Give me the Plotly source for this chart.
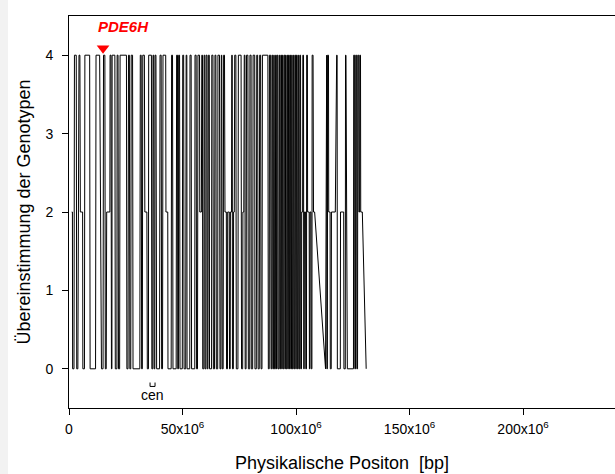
import plotly.graph_objects as go

# Marker positions along the chromosome (Mb) and genotype concordance at each marker
position_mb = [
    1.2, 1.5, 1.6, 2.2, 2.4, 3.2, 3.4, 3.9, 4.4, 4.8,
    5.0, 6.0, 6.1, 6.8, 7.0, 9.1, 9.3, 11.7, 11.9, 13.5,
    14.3, 15.0, 15.2, 15.8, 16.0, 16.4, 16.6, 18.0, 18.1, 18.5,
    18.7, 18.9, 19.0, 20.2, 20.4, 21.1, 21.2, 21.6, 21.8, 22.3,
    22.5, 25.3, 25.5, 26.0, 26.2, 26.6, 26.8, 27.2, 27.4, 28.0,
    28.2,
    31.2, 31.4, 31.8, 32.0, 32.3, 32.5, 33.2, 33.4, 34.3, 34.5,
    35.0, 35.1, 36.3, 36.5, 36.9, 37.0, 37.3, 37.5, 37.8, 37.9,
    38.3, 38.6, 39.9, 40.1, 40.6, 40.8, 41.2, 41.4, 42.6, 42.7,
    43.5, 43.6, 45.0, 45.2, 45.6, 45.8,
    47.2, 47.4, 47.8, 47.9, 48.2, 48.3, 48.7, 48.9, 49.9, 50.1,
    50.5, 50.7, 51.4, 51.6, 51.9, 52.0, 53.2, 53.3, 53.8, 54.0,
    55.4, 55.5, 56.0, 56.2, 56.6, 56.8, 57.5, 57.6, 58.3, 58.5,
    58.8, 58.9, 59.4, 59.5, 59.8, 59.9, 60.3, 60.4, 60.8, 60.9,
    61.2, 61.4, 61.8, 61.9, 62.8, 62.9, 63.4, 63.6, 64.1, 64.3,
    64.7, 64.9, 65.5, 65.6, 66.3, 66.5,
    66.9, 67.1, 67.3, 67.5, 67.9, 68.1, 68.5, 68.7, 69.3, 69.4,
    69.8, 69.9, 70.6, 70.7, 71.0, 71.1, 71.6, 71.7, 71.9, 72.0,
    72.4, 72.5, 72.8, 73.0, 73.5, 73.7, 74.4, 74.6, 75.8, 76.0,
    76.5, 76.6, 77.0, 77.2, 77.5, 77.6, 78.0, 78.2, 78.8, 79.0,
    79.6, 79.7, 80.2, 80.3, 80.9, 81.1, 81.8, 81.9, 82.5, 82.7,
    83.1, 83.3, 83.8, 84.0, 84.4, 84.6, 85.0, 85.2, 87.6, 87.8,
    88.2, 88.3, 88.8, 89.0,
    89.3, 89.4, 89.7, 89.8, 90.1, 90.2, 90.4, 90.5, 90.9, 91.0,
    91.3, 91.4, 91.6, 91.7, 92.0, 92.1, 92.5, 92.6, 92.8, 92.9,
    93.2, 93.3, 93.6, 93.7, 93.9, 94.0, 94.2, 94.3, 94.6, 94.7,
    95.0, 95.1, 95.3, 95.4, 95.6, 95.7, 96.0, 96.1, 96.3, 96.4,
    96.6, 96.7, 97.0, 97.1, 97.3, 97.4, 97.6, 97.7, 98.0, 98.1,
    98.3, 98.4, 98.7, 98.8, 99.0, 99.1, 99.4, 99.5, 99.8, 99.9,
    100.1, 100.2, 100.5, 100.6, 100.9, 101.0, 101.2, 101.3, 101.6, 101.7,
    102.0, 102.1, 102.4, 102.5, 102.9, 103.0, 103.3, 103.4, 103.6, 103.7,
    104.2, 104.3, 104.6, 104.7, 105.0, 105.1, 105.8, 105.9, 106.1, 106.2,
    106.6, 106.7, 107.0, 107.1, 107.5, 107.7, 108.2, 113.0,
    113.2, 113.5, 113.6, 113.8, 113.9, 114.3, 114.4, 115.0, 115.1, 115.5,
    115.6, 117.3, 117.9, 118.1, 118.2, 119.5, 119.6, 121.0, 121.1, 121.7,
    121.8, 122.0, 122.6, 125.3, 125.4, 125.8, 125.9, 126.2, 126.3, 126.7,
    126.8, 127.1, 127.2, 127.6, 127.7, 128.0, 128.1, 128.4, 128.5, 129.2,
    130.9,
]

concordance = [
    2, 2, 0, 0, 4, 4, 0, 0, 4, 4,
    2, 2, 0, 0, 4, 4, 0, 0, 4, 4,
    0, 0, 4, 4, 0, 0, 2, 2, 4, 4,
    0, 0, 4, 4, 0, 0, 4, 4, 0, 0,
    4, 4, 0, 0, 4, 4, 0, 0, 4, 4,
    0,
    0, 4, 4, 0, 0, 4, 4, 2, 2, 0,
    0, 4, 4, 0, 0, 4, 4, 0, 0, 4,
    4, 0, 0, 4, 4, 0, 0, 4, 4, 2,
    2, 0, 0, 4, 4, 0,
    0, 4, 4, 0, 0, 4, 4, 0, 0, 4,
    4, 0, 0, 4, 4, 0, 0, 4, 4, 0,
    0, 4, 4, 0, 0, 4, 4, 2, 2, 4,
    4, 0, 0, 4, 4, 0, 0, 4, 4, 0,
    0, 4, 4, 0, 0, 4, 4, 0, 0, 4,
    4, 0, 0, 4, 4, 0,
    0, 4, 4, 0, 0, 4, 4, 2, 2, 0,
    0, 2, 2, 0, 0, 2, 2, 4, 4, 0,
    0, 2, 2, 4, 4, 0, 0, 4, 4, 0,
    0, 2, 2, 4, 4, 0, 0, 4, 4, 0,
    0, 4, 4, 0, 0, 4, 4, 0, 0, 4,
    4, 0, 0, 4, 4, 0, 0, 4, 4, 0,
    0, 4, 4, 0,
    0, 4, 4, 0, 0, 4, 4, 0, 0, 4,
    4, 0, 0, 4, 4, 0, 0, 4, 4, 0,
    0, 4, 4, 0, 0, 4, 4, 0, 0, 4,
    4, 0, 0, 4, 4, 0, 0, 4, 4, 0,
    0, 4, 4, 0, 0, 4, 4, 0, 0, 4,
    4, 0, 0, 4, 4, 0, 0, 4, 4, 0,
    0, 4, 4, 0, 0, 4, 4, 0, 0, 4,
    4, 0, 0, 2, 2, 4, 4, 0, 0, 2,
    2, 0, 0, 4, 4, 2, 2, 0, 0, 2,
    2, 0, 0, 4, 4, 2, 2, 0,
    4, 4, 0, 0, 4, 4, 2, 2, 0, 0,
    2, 2, 4, 4, 0, 0, 2, 2, 0, 0,
    4, 4, 0, 0, 4, 4, 0, 0, 4, 4,
    0, 0, 4, 4, 2, 2, 4, 4, 2, 2,
    0,
]

assert len(position_mb) == len(concordance)

# Candidate gene and centromere annotations
gene_name = "PDE6H"
gene_position_mb = 15.0
gene_marker_level = 4.09
centromere_label = "cen"
centromere_start_mb = 35.7
centromere_end_mb = 37.9

# Axis ticks
x_tick_values_mb = [0, 50, 100, 150, 200]
x_tick_labels = ["0", "50x10<sup>6</sup>", "100x10<sup>6</sup>",
                 "150x10<sup>6</sup>", "200x10<sup>6</sup>"]
y_tick_values = [0, 1, 2, 3, 4]

BP = 1e6
FONT = "Arial, 'Liberation Sans', sans-serif"

fig = go.Figure()

fig.add_trace(go.Scatter(
    x=[p * BP for p in position_mb],
    y=concordance,
    mode="lines",
    line=dict(color="black", width=1),
    hoverinfo="x+y",
    showlegend=False,
))

# Gene position marker
fig.add_trace(go.Scatter(
    x=[gene_position_mb * BP],
    y=[gene_marker_level],
    mode="markers",
    marker=dict(symbol="triangle-down", color="#ff0000", size=11,
                line=dict(width=0)),
    showlegend=False,
    hoverinfo="skip",
))

# Centromere bracket
bracket_top, bracket_bottom = -0.175, -0.225
fig.add_trace(go.Scatter(
    x=[centromere_start_mb * BP, centromere_start_mb * BP,
       centromere_end_mb * BP, centromere_end_mb * BP],
    y=[bracket_top, bracket_bottom, bracket_bottom, bracket_top],
    mode="lines",
    line=dict(color="black", width=1),
    showlegend=False,
    hoverinfo="skip",
))

fig.add_annotation(
    x=(gene_position_mb - 3.1) * BP, y=4.36,
    text=gene_name,
    showarrow=False, xanchor="left", yanchor="middle",
    font=dict(family=FONT, size=15, color="#ff0000",
              weight="bold", style="italic"),
)
fig.add_annotation(
    x=(centromere_start_mb + centromere_end_mb) / 2 * BP, y=-0.335,
    text=centromere_label,
    showarrow=False, xanchor="center", yanchor="middle",
    font=dict(family=FONT, size=14, color="black"),
)

# Light strip at the left page edge
fig.add_shape(
    type="rect", xref="paper", yref="paper",
    x0=-69 / 546, x1=-61 / 546, y0=-0.2, y1=1.1,
    fillcolor="#f2f2f2", line=dict(width=0), layer="below",
)

fig.update_layout(
    width=615, height=474,
    margin=dict(l=69, r=0, t=16, b=66),
    paper_bgcolor="white", plot_bgcolor="white",
    font=dict(family=FONT, color="black"),
    showlegend=False,
)

fig.update_xaxes(
    range=[0, 240.5 * BP],
    tickvals=[v * BP for v in x_tick_values_mb],
    ticktext=x_tick_labels,
    ticks="outside", ticklen=6, tickwidth=1, tickcolor="black",
    showline=True, linecolor="black", linewidth=1, mirror=True,
    showgrid=False, zeroline=False,
    tickfont=dict(size=14, family=FONT, color="black"),
    ticklabelstandoff=2,
    title=dict(text="Physikalische Positon\u00a0 [bp]",
               font=dict(size=18, family=FONT, color="black"),
               standoff=20),
)
fig.update_yaxes(
    range=[-0.5, 4.5],
    tickvals=y_tick_values,
    ticks="outside", ticklen=6, tickwidth=1, tickcolor="black",
    showline=True, linecolor="black", linewidth=1, mirror=False,
    showgrid=False, zeroline=False,
    tickfont=dict(size=14, family=FONT, color="black"),
    ticklabelstandoff=6,
    title=dict(text="Übereinstimmung der Genotypen",
               font=dict(size=18, family=FONT, color="black"),
               standoff=10),
)

fig.write_html("out.html")
